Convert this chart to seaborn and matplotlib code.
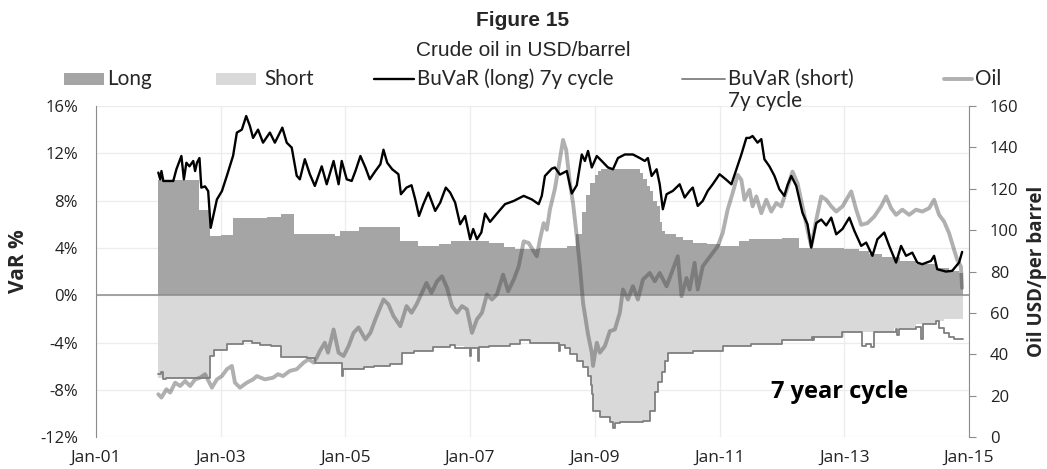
import matplotlib
matplotlib.use("Agg")
import numpy as np
import pandas as pd
import matplotlib.pyplot as plt
import matplotlib.dates as mdates
from matplotlib.patches import Rectangle
from matplotlib.lines import Line2D
from matplotlib.ticker import FuncFormatter
import seaborn as sns

# dates are decimal years

# "Long" VaR, step levels (%)
long_years = [2002.00, 2002.66, 2002.83, 2003.00, 2003.20, 2003.75, 2003.97, 2004.17,
              2004.83, 2004.92, 2005.21, 2005.88, 2006.17, 2006.50, 2006.70, 2007.30,
              2007.55, 2007.72, 2008.10, 2008.55, 2008.70, 2008.79, 2008.86, 2008.92,
              2009.00, 2009.05, 2009.10, 2009.72, 2009.77, 2009.84, 2009.88, 2009.94,
              2009.99, 2010.04, 2010.07, 2010.12, 2010.30, 2010.41, 2010.57, 2010.80,
              2011.00, 2011.32, 2011.48, 2012.00, 2012.28, 2012.70, 2013.00, 2013.24,
              2013.40, 2013.61, 2013.90, 2014.15, 2014.47, 2014.68, 2014.84, 2014.90]
long_var = [9.7, 7.2, 5.0, 5.1, 6.5, 6.6, 6.85, 5.2,
            5.0, 5.4, 5.8, 4.6, 4.2, 4.3, 4.6, 4.4,
            4.1, 3.9, 4.0, 4.2, 5.15, 7.0, 8.5, 9.5,
            10.2, 10.5, 10.65, 10.3, 9.8, 9.2, 8.8, 8.0,
            7.55, 6.2, 5.4, 5.15, 4.9, 4.7, 4.45, 4.3,
            4.2, 4.6, 4.75, 4.85, 4.0, 3.95, 3.9, 3.75,
            3.5, 3.2, 2.9, 2.6, 2.3, 2.05, 1.9, 1.9]

# "Short" VaR, step levels (%)
short_years = [2002.00, 2002.83, 2002.90, 2003.10, 2003.36, 2003.50, 2003.63, 2003.80,
               2003.97, 2004.20, 2004.38, 2004.51, 2004.94, 2005.30, 2005.45, 2005.72,
               2005.90, 2006.10, 2006.41, 2006.68, 2006.90, 2007.10, 2007.30, 2007.64,
               2007.80, 2007.96, 2008.20, 2008.44, 2008.52, 2008.60, 2008.71, 2008.81,
               2008.89, 2008.93, 2008.95, 2008.97, 2009.08, 2009.24, 2009.40, 2009.77,
               2009.88, 2009.96, 2010.02, 2010.07, 2010.12, 2010.17, 2010.57, 2011.05,
               2011.50, 2012.00, 2012.50, 2013.00, 2013.80, 2014.15, 2014.47, 2014.60,
               2014.90]
short_var = [-7.0, -5.1, -4.6, -4.0, -3.86, -4.0, -4.2, -4.3,
             -5.1, -5.2, -5.35, -5.77, -6.25, -6.1, -5.97, -5.83,
             -4.9, -4.75, -4.42, -4.3, -4.45, -4.4, -4.3, -4.14,
             -3.8, -4.0, -4.1, -4.2, -4.5, -4.99, -5.55, -6.11,
             -6.8, -7.6, -8.37, -9.77, -10.3, -10.76, -10.7, -10.6,
             -9.77, -8.22, -7.3, -6.5, -5.6, -4.85, -4.7, -4.28,
             -4.0, -3.75, -3.5, -3.15, -2.8, -2.45, -2.2, -2.0,
             -1.75]

# BuVaR (long) 7y cycle (%)
bl_years = [2002.00, 2002.03, 2002.05, 2002.08, 2002.24, 2002.29, 2002.37, 2002.41,
            2002.45, 2002.50, 2002.56, 2002.59, 2002.62, 2002.66, 2002.69, 2002.75,
            2002.80, 2002.84, 2002.94, 2003.02, 2003.10, 2003.20, 2003.26, 2003.34,
            2003.41, 2003.47, 2003.52, 2003.60, 2003.68, 2003.79, 2003.87, 2003.99,
            2004.06, 2004.14, 2004.22, 2004.27, 2004.35, 2004.43, 2004.51, 2004.62,
            2004.70, 2004.81, 2004.89, 2004.94, 2005.02, 2005.10, 2005.16, 2005.24,
            2005.32, 2005.39, 2005.48, 2005.56, 2005.61, 2005.67, 2005.75, 2005.85,
            2005.89, 2005.98, 2006.06, 2006.12, 2006.18, 2006.25, 2006.33, 2006.44,
            2006.52, 2006.61, 2006.68, 2006.76, 2006.84, 2006.92, 2007.00, 2007.05,
            2007.11, 2007.18, 2007.24, 2007.32, 2007.43, 2007.56, 2007.70, 2007.86,
            2007.99, 2008.10, 2008.15, 2008.20, 2008.31, 2008.36, 2008.44, 2008.55,
            2008.63, 2008.71, 2008.79, 2008.84, 2008.89, 2008.95, 2009.03, 2009.11,
            2009.21, 2009.29, 2009.37, 2009.48, 2009.61, 2009.72, 2009.80, 2009.85,
            2009.91, 2009.99, 2010.04, 2010.09, 2010.15, 2010.25, 2010.36, 2010.44,
            2010.52, 2010.57, 2010.65, 2010.73, 2010.81, 2010.89, 2011.00, 2011.10,
            2011.19, 2011.27, 2011.35, 2011.43, 2011.48, 2011.53, 2011.61, 2011.67,
            2011.72, 2011.80, 2011.88, 2011.96, 2012.04, 2012.09, 2012.15, 2012.23,
            2012.33, 2012.41, 2012.47, 2012.55, 2012.63, 2012.71, 2012.79, 2012.87,
            2012.97, 2013.08, 2013.16, 2013.27, 2013.35, 2013.45, 2013.53, 2013.64,
            2013.72, 2013.83, 2013.91, 2013.99, 2014.09, 2014.17, 2014.25, 2014.39,
            2014.44, 2014.49, 2014.63, 2014.73, 2014.84, 2014.89]
bl_var = [10.37, 9.8, 10.5, 9.66, 9.66, 10.65, 11.77, 9.8,
          11.2, 10.9, 11.35, 10.5, 11.2, 11.6, 9.1, 9.2,
          8.8, 5.7, 8.1, 8.8, 10.1, 11.8, 13.75, 14.0,
          15.15, 14.3, 13.3, 14.0, 12.9, 13.75, 12.9, 14.17,
          12.9, 12.48, 10.1, 9.8, 11.5, 10.23, 9.24, 10.9,
          9.38, 11.35, 9.38, 11.35, 9.8, 9.66, 10.5, 11.77,
          10.8, 9.8, 10.5, 11.07, 12.3, 11.2, 10.65, 10.23,
          8.54, 9.1, 9.3, 8.1, 6.7, 7.7, 8.68, 7.13,
          7.83, 9.1, 8.68, 7.83, 6.0, 6.7, 4.73, 5.6,
          4.73, 5.3, 6.9, 6.2, 6.9, 7.7, 7.97, 8.4,
          8.1, 7.7, 8.4, 10.08, 10.7, 10.8, 10.2, 10.5,
          8.6, 9.3, 11.9, 11.35, 12.2, 10.8, 11.77, 11.35,
          10.8, 10.65, 11.6, 11.9, 11.9, 11.6, 11.35, 11.6,
          10.08, 10.65, 9.38, 7.27, 8.54, 8.82, 9.38, 8.26,
          8.82, 9.1, 7.55, 7.97, 8.82, 9.38, 10.23, 9.8,
          9.38, 10.65, 11.9, 13.3, 13.3, 13.46, 12.9, 13.2,
          11.5, 10.9, 10.1, 8.96, 8.4, 9.3, 10.08, 9.24,
          6.96, 6.0, 4.03, 6.1, 6.4, 5.9, 6.56, 5.15,
          5.6, 6.56, 5.45, 4.17, 4.45, 3.33, 4.73, 5.3,
          4.17, 2.76, 4.17, 3.33, 3.6, 2.76, 2.62, 2.9,
          3.33, 2.2, 2.0, 2.06, 2.76, 3.66]

# BuVaR (short) 7y cycle (%), step levels with spikes
bs_years = [2002.00, 2002.04, 2002.07, 2002.12, 2002.83, 2002.90, 2003.10, 2003.36,
            2003.50, 2003.63, 2003.80, 2003.97, 2004.20, 2004.38, 2004.51, 2004.94,
            2004.96, 2005.30, 2005.45, 2005.72, 2005.90, 2006.10, 2006.41, 2006.68,
            2006.75, 2007.00, 2007.02, 2007.13, 2007.15, 2007.30, 2007.64, 2007.80,
            2007.96, 2008.42, 2008.44, 2008.52, 2008.60, 2008.71, 2008.81, 2008.89,
            2008.93, 2008.95, 2008.97, 2009.08, 2009.24, 2009.29, 2009.32, 2009.40,
            2009.77, 2009.88, 2009.96, 2010.02, 2010.07, 2010.12, 2010.17, 2010.57,
            2011.05, 2011.50, 2012.00, 2012.49, 2012.50, 2012.52, 2012.97, 2013.29,
            2013.35, 2013.43, 2013.48, 2013.83, 2013.85, 2013.87, 2014.15, 2014.23,
            2014.26, 2014.47, 2014.52, 2014.60, 2014.68, 2014.76, 2014.90]
bs_var = [-6.7, -6.5, -7.1, -7.0, -5.1, -4.6, -4.1, -3.86,
          -4.0, -4.2, -4.3, -5.2, -5.25, -5.35, -5.77, -6.8,
          -6.25, -6.1, -5.97, -5.83, -4.9, -4.75, -4.42, -4.25,
          -4.45, -5.1, -4.5, -5.55, -4.4, -4.3, -4.14, -3.75,
          -4.05, -4.7, -4.2, -4.5, -4.99, -5.55, -6.11, -6.8,
          -7.6, -8.37, -9.77, -10.3, -10.76, -11.2, -10.8, -10.7,
          -10.6, -9.77, -8.22, -7.3, -6.5, -5.6, -4.85, -4.7,
          -4.28, -4.14, -3.75, -3.5, -3.75, -3.5, -3.15, -4.28,
          -4.1, -4.4, -3.15, -2.82, -3.4, -2.82, -2.7, -3.72,
          -2.4, -2.2, -2.8, -3.2, -3.5, -3.7, -3.72]

# Oil, USD/barrel
oil_years = [2002.00, 2002.05, 2002.13, 2002.19, 2002.27, 2002.35, 2002.43, 2002.51,
             2002.59, 2002.67, 2002.75, 2002.86, 2002.94, 2003.02, 2003.10, 2003.18,
             2003.23, 2003.31, 2003.42, 2003.52, 2003.58, 2003.71, 2003.84, 2003.92,
             2004.00, 2004.11, 2004.22, 2004.33, 2004.41, 2004.49, 2004.54, 2004.59,
             2004.67, 2004.72, 2004.81, 2004.89, 2004.97, 2005.05, 2005.13, 2005.21,
             2005.32, 2005.40, 2005.48, 2005.61, 2005.69, 2005.77, 2005.88, 2005.98,
             2006.06, 2006.14, 2006.25, 2006.30, 2006.38, 2006.47, 2006.55, 2006.63,
             2006.71, 2006.79, 2006.87, 2006.95, 2007.03, 2007.11, 2007.19, 2007.27,
             2007.35, 2007.43, 2007.53, 2007.61, 2007.70, 2007.78, 2007.86, 2007.94,
             2008.02, 2008.07, 2008.12, 2008.18, 2008.23, 2008.28, 2008.36, 2008.42,
             2008.49, 2008.54, 2008.60, 2008.65, 2008.71, 2008.76, 2008.81, 2008.89,
             2008.95, 2008.97, 2009.03, 2009.08, 2009.16, 2009.24, 2009.32, 2009.40,
             2009.45, 2009.53, 2009.61, 2009.69, 2009.77, 2009.88, 2009.96, 2010.04,
             2010.15, 2010.25, 2010.33, 2010.39, 2010.47, 2010.52, 2010.60, 2010.65,
             2010.73, 2010.81, 2010.89, 2010.97, 2011.05, 2011.13, 2011.21, 2011.29,
             2011.35, 2011.40, 2011.48, 2011.53, 2011.59, 2011.67, 2011.75, 2011.83,
             2011.91, 2011.99, 2012.07, 2012.17, 2012.25, 2012.33, 2012.41, 2012.47,
             2012.55, 2012.63, 2012.71, 2012.79, 2012.87, 2012.97, 2013.11, 2013.19,
             2013.27, 2013.37, 2013.48, 2013.59, 2013.67, 2013.75, 2013.83, 2013.93,
             2014.04, 2014.15, 2014.25, 2014.36, 2014.44, 2014.52, 2014.60, 2014.68,
             2014.76, 2014.81, 2014.87, 2014.89]
oil_usd = [20.7, 19.1, 23.1, 21.5, 26.3, 24.7, 27.1, 24.7,
           27.9, 28.7, 30.4, 23.9, 27.9, 29.5, 32.8, 34.4,
           26.3, 23.9, 26.3, 27.9, 29.5, 27.9, 28.7, 30.4,
           29.5, 32.0, 32.8, 36.0, 37.6, 36.0, 38.4, 41.6,
           45.6, 40.8, 52.0, 40.8, 39.2, 44.0, 50.4, 53.0,
           47.2, 50.4, 56.9, 66.5, 64.1, 58.5, 53.6, 63.3,
           60.1, 64.1, 71.3, 74.5, 69.7, 75.3, 77.7, 72.1,
           63.3, 60.1, 63.3, 61.7, 50.4, 56.9, 60.1, 68.9,
           66.5, 68.9, 78.5, 70.5, 76.1, 82.5, 94.6, 93.8,
           89.8, 87.4, 95.4, 103.4, 100.2, 110.0, 120.0, 130.7,
           143.6, 138.8, 122.7, 113.1, 97.0, 82.5, 64.9, 49.6,
           40.8, 34.4, 45.6, 40.8, 44.0, 51.2, 52.0, 60.1,
           71.3, 66.5, 72.9, 66.5, 76.1, 79.3, 75.3, 79.3,
           72.9, 80.9, 87.4, 68.1, 76.9, 71.3, 84.2, 71.3,
           82.5, 85.8, 89.0, 92.2, 98.6, 109.9, 117.9, 126.7,
           124.3, 114.7, 119.5, 111.5, 116.3, 108.2, 114.7, 109.0,
           113.1, 111.5, 118.7, 128.3, 122.7, 111.5, 100.2, 92.2,
           105.0, 116.3, 114.7, 111.5, 109.0, 111.5, 118.7, 109.9,
           102.6, 103.4, 106.6, 111.5, 116.3, 110.6, 107.4, 109.9,
           107.4, 109.9, 109.0, 110.6, 114.7, 107.4, 104.2, 98.6,
           90.6, 85.8, 82.5, 72.1]

x_tick_years = [2001, 2003, 2005, 2007, 2009, 2011, 2013, 2015]
var_ticks = [-12, -8, -4, 0, 4, 8, 12, 16]
oil_ticks = [0, 20, 40, 60, 80, 100, 120, 140, 160]

W, H = 1047, 469


def to_dates(years):
    out = []
    for y in years:
        base = int(y)
        start = pd.Timestamp(year=base, month=1, day=1)
        end = pd.Timestamp(year=base + 1, month=1, day=1)
        out.append(start + (end - start) * (y - base))
    return pd.DatetimeIndex(out)


def fpx(x, y):
    # pixel position (from top-left) -> figure fraction
    return x / W, 1 - y / H


def main():
    sns.set_style("white")
    plt.rcParams['font.family'] = ['Open Sans', 'DejaVu Sans']
    leg_font = ['Lato', 'DejaVu Sans']
    arial = ['Liberation Sans', 'DejaVu Sans']

    fig = plt.figure(figsize=(W / 100, H / 100), dpi=100)
    pos = [0.0917, 0.068, 0.8338, 0.706]
    ax = fig.add_axes(pos)
    ax_oil = ax.twinx()
    ax_top = fig.add_axes(pos, sharex=ax, sharey=ax)
    ax_top.set_zorder(ax_oil.get_zorder() + 1)
    ax_top.patch.set_visible(False)
    ax_top.axis('off')

    col_long = '#a5a5a5'
    col_short = '#d9d9d9'
    col_bs = '#7f7f7f'
    col_oil = '#484848'

    # stepped VaR areas
    ax.fill_between(to_dates(long_years), long_var, 0, step='post',
                    color=col_long, linewidth=0)
    ax.fill_between(to_dates(short_years), short_var, 0, step='post',
                    color=col_short, linewidth=0)
    ax.axhline(0, color='#8c8c8c', linewidth=1.1, zorder=3)

    # oil on the right scale
    sns.lineplot(x=to_dates(oil_years), y=oil_usd, ax=ax_oil, color=col_oil,
                 alpha=0.43, linewidth=2.8, estimator=None)

    # BuVaR lines on top
    sns.lineplot(x=to_dates(bs_years), y=bs_var, ax=ax_top, color=col_bs,
                 linewidth=1.3, drawstyle='steps-post', estimator=None)
    sns.lineplot(x=to_dates(bl_years), y=bl_var, ax=ax_top, color='black',
                 linewidth=1.7, estimator=None)

    # axes styling
    ax.set_xlim(pd.Timestamp('2001-01-01'), pd.Timestamp('2015-01-01'))
    ax.set_ylim(-12, 16)
    ax.set_yticks(var_ticks)
    ax.yaxis.set_major_formatter(FuncFormatter(lambda v, p: f"{v:.0f}%"))
    ax.set_xticks([pd.Timestamp(year=y, month=1, day=1) for y in x_tick_years])
    ax.xaxis.set_major_formatter(mdates.DateFormatter('%b-%y'))
    ax.grid(True, color='#ececec', linewidth=0.9)
    ax.set_axisbelow(True)
    ax.tick_params(axis='y', length=0, labelsize=12, colors='#222222', pad=13)
    ax.tick_params(axis='x', length=0, labelsize=12.5, colors='#222222', pad=9)
    for side in ['top', 'bottom', 'right']:
        ax.spines[side].set_visible(False)
    ax.spines['left'].set_color('#8c8c8c')
    ax.set_ylabel("VaR %", fontsize=15, fontweight='bold')
    ax.yaxis.set_label_coords(-0.077, 0.53)
    ax.set_xlabel("")

    ax_oil.set_ylim(0, 160)
    ax_oil.set_yticks(oil_ticks)
    ax_oil.tick_params(axis='y', length=5, color='#8c8c8c', labelsize=12,
                       colors='#222222', pad=10)
    ax_oil.tick_params(axis='y', color='#8c8c8c')
    for side in ['top', 'bottom', 'left']:
        ax_oil.spines[side].set_visible(False)
    ax_oil.spines['right'].set_color('#8c8c8c')
    ax_oil.set_ylabel("Oil USD/per barrel", fontsize=13.5, fontweight='bold',
                      labelpad=6)
    ax_oil.grid(False)

    ax_top.text(0.852, 0.136, "7 year cycle", transform=ax_top.transAxes,
                ha='center', va='center', fontsize=17, fontweight='bold',
                color='black')

    # titles
    fig.text(*fpx(523, 20), "Figure 15", ha='center', va='center', fontsize=15,
             fontweight='bold', family=arial)
    fig.text(*fpx(523, 50), "Crude oil in USD/barrel", ha='center', va='center',
             fontsize=15, family=arial)

    # legend, laid out entry by entry like the original
    probe = fig.text(0, 0, "BuVaR (long) 7y cycle", fontsize=10, family=leg_font)
    fig.canvas.draw()
    w10 = probe.get_window_extent().width
    probe.remove()
    leg_size = 10 * 196 / w10

    row_y = 79
    entries = [
        ('patch', col_long, 64, 104, 107, "Long"),
        ('patch', col_short, 216, 256, 264, "Short"),
        ('line', 'black', 374, 414, 417, "BuVaR (long) 7y cycle"),
        ('line', col_bs, 682, 725, 728, "BuVaR (short)"),
        ('line', '#b0b0b0', 944, 972, 975, "Oil"),
    ]
    lw = {'black': 1.7, col_bs: 1.3, '#b0b0b0': 2.8}
    for kind, col, x0, x1, tx, label in entries:
        if kind == 'patch':
            fx0, fy0 = fpx(x0, row_y + 6)
            fx1, fy1 = fpx(x1, row_y - 6)
            fig.add_artist(Rectangle((fx0, fy0), fx1 - fx0, fy1 - fy0,
                                     transform=fig.transFigure, facecolor=col,
                                     edgecolor='none'))
        else:
            fx0, fy = fpx(x0, row_y)
            fx1, _ = fpx(x1, row_y)
            fig.add_artist(Line2D([fx0, fx1], [fy, fy], transform=fig.transFigure,
                                  color=col, linewidth=lw[col]))
        fig.text(*fpx(tx, row_y), label, ha='left', va='center',
                 fontsize=leg_size, family=leg_font)
    fig.text(*fpx(728, 101), "7y cycle", ha='left', va='center',
             fontsize=leg_size, family=leg_font)

    fig.savefig("out.png", dpi=100)


if __name__ == "__main__":
    main()
